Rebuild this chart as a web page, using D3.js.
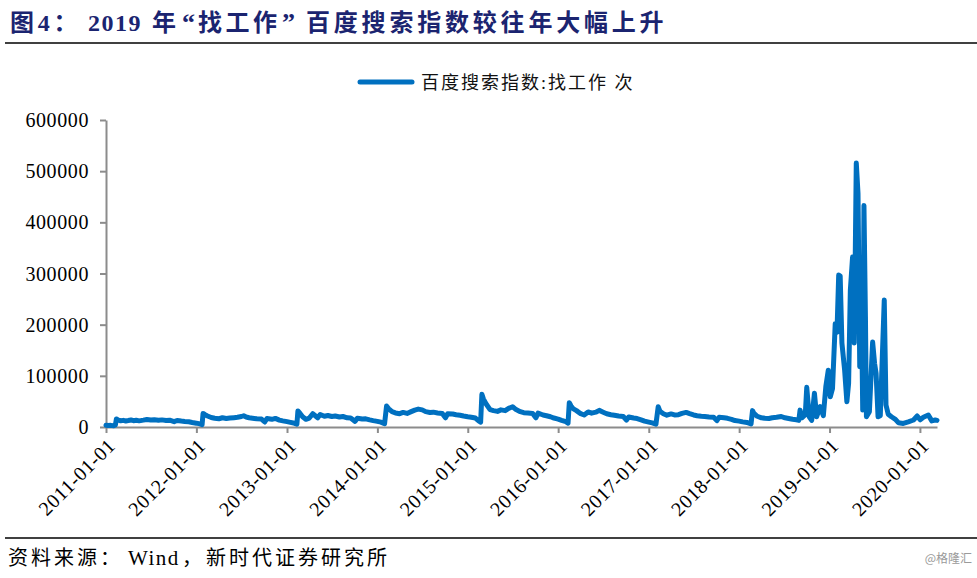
<!DOCTYPE html>
<html><head><meta charset="utf-8">
<script src="https://cdn.jsdelivr.net/npm/d3@7/dist/d3.min.js"></script>
<style>body{margin:0;background:#fff}svg{display:block}</style>
</head><body>
<svg id="c" width="977" height="578"></svg>
<script>
const titleParts = ["图4：", "2019", "年", "“", "找工作", "”", "百度搜索指数较往年大幅上升"];
const legendLabel = "百度搜索指数:找工作 次";
const sourceParts = ["资料来源：", "Wind", "，", "新时代证券研究所"];
const watermark = "@格隆汇";
const yTicks = [0, 100000, 200000, 300000, 400000, 500000, 600000];
const xTickLabels = ["2011-01-01","2012-01-01","2013-01-01","2014-01-01","2015-01-01","2016-01-01","2017-01-01","2018-01-01","2019-01-01","2020-01-01"];
const xStart = "2011-01-01", xEnd = "2020-03-10";

const s2011 = [["2011-01-01",3500],["2011-01-10",2800],["2011-01-20",3200],["2011-02-01",2600],["2011-02-08",4000],["2011-02-12",15800],["2011-02-20",13500],["2011-03-01",12200],["2011-03-12",13000],["2011-03-22",11800],["2011-04-01",12600],["2011-04-12",13800],["2011-04-22",12400],["2011-05-03",13200],["2011-05-15",12000],["2011-06-01",13400],["2011-06-15",14800],["2011-07-01",13600],["2011-07-15",14200],["2011-08-01",13000],["2011-08-15",13900],["2011-09-01",12600],["2011-09-15",13400],["2011-10-03",10500],["2011-10-15",12800],["2011-11-01",11600],["2011-11-15",10800],["2011-12-01",10200],["2011-12-15",8800],["2012-01-01",7500],["2012-01-15",6000],["2012-01-24",4500]];
const s2012 = [["2012-01-28",26500],["2012-02-05",24000],["2012-02-15",21500],["2012-03-01",18500],["2012-03-15",17000],["2012-04-01",16200],["2012-04-15",18000],["2012-05-01",16500],["2012-05-15",17400],["2012-06-01",18200],["2012-06-15",19000],["2012-07-01",20500],["2012-07-10",22000],["2012-07-20",19500],["2012-08-01",18000],["2012-08-15",17200],["2012-09-01",16000],["2012-09-20",15500],["2012-10-03",9800],["2012-10-12",16500],["2012-11-01",15000],["2012-11-15",16800],["2012-12-01",13500],["2012-12-15",12000],["2013-01-01",10500],["2013-01-15",9000],["2013-02-01",7200],["2013-02-10",5500]];
const s2013 = [["2013-02-14",31500],["2013-02-22",27000],["2013-03-05",20000],["2013-03-18",15000],["2013-04-01",17500],["2013-04-15",26000],["2013-04-25",22000],["2013-05-05",18000],["2013-05-15",24500],["2013-06-01",21000],["2013-06-15",22500],["2013-07-01",20500],["2013-07-15",21500],["2013-08-01",19500],["2013-08-15",20500],["2013-09-01",18000],["2013-09-15",17500],["2013-10-03",11000],["2013-10-12",17000],["2013-11-01",15500],["2013-11-15",16000],["2013-12-01",14000],["2013-12-15",12500],["2014-01-01",11000],["2014-01-15",9500],["2014-01-30",6500]];
const s2014 = [["2014-02-07",41000],["2014-02-15",36000],["2014-03-01",30000],["2014-03-15",27500],["2014-04-01",26000],["2014-04-15",28500],["2014-05-01",26500],["2014-05-15",29500],["2014-06-01",33000],["2014-06-15",35000],["2014-07-01",33500],["2014-07-15",30000],["2014-08-01",28500],["2014-08-15",29000],["2014-09-01",27500],["2014-09-20",26500],["2014-10-03",18000],["2014-10-12",26000],["2014-11-01",25500],["2014-11-15",24000],["2014-12-01",23000],["2014-12-15",21500],["2015-01-01",20000],["2015-01-15",19000],["2015-02-01",17500],["2015-02-14",12000],["2015-02-22",9500]];
const s2015 = [["2015-02-27",64000],["2015-03-05",55000],["2015-03-15",46000],["2015-04-01",34000],["2015-04-15",32000],["2015-05-01",30500],["2015-05-15",33500],["2015-06-01",32000],["2015-06-15",36500],["2015-07-01",39500],["2015-07-15",34000],["2015-08-01",30000],["2015-08-15",28000],["2015-09-01",27500],["2015-09-20",26500],["2015-10-03",18000],["2015-10-12",27000],["2015-11-01",23500],["2015-11-15",22000],["2015-12-01",20000],["2015-12-15",17500],["2016-01-01",15500],["2016-01-15",13000],["2016-02-01",10500],["2016-02-10",7500]];
const s2016 = [["2016-02-15",47500],["2016-02-22",41000],["2016-03-01",36000],["2016-03-15",32000],["2016-04-01",26000],["2016-04-15",23500],["2016-05-01",29500],["2016-05-15",27000],["2016-06-01",29000],["2016-06-15",32500],["2016-07-01",29000],["2016-07-15",26000],["2016-08-01",24000],["2016-08-15",23000],["2016-09-01",21500],["2016-09-20",20500],["2016-10-03",13500],["2016-10-12",19500],["2016-11-01",17500],["2016-11-15",16500],["2016-12-01",14000],["2016-12-15",11500],["2017-01-01",9500],["2017-01-15",8000],["2017-01-30",5500]];
const s2017 = [["2017-02-08",39500],["2017-02-15",31000],["2017-03-01",26000],["2017-03-15",23000],["2017-04-01",25500],["2017-04-15",23500],["2017-05-01",24000],["2017-05-15",26500],["2017-06-01",28500],["2017-06-15",26000],["2017-07-01",23500],["2017-07-15",22000],["2017-08-01",21000],["2017-08-15",20500],["2017-09-01",19500],["2017-09-20",19000],["2017-10-03",12500],["2017-10-12",19000],["2017-11-01",18000],["2017-11-15",17000],["2017-12-01",15000],["2017-12-15",12500],["2018-01-01",11500],["2018-01-15",10000],["2018-02-01",9000],["2018-02-18",6000]];
const s2018 = [["2018-02-24",32000],["2018-03-01",27000],["2018-03-15",21000],["2018-04-01",18000],["2018-04-15",17000],["2018-05-01",16500],["2018-05-15",18000],["2018-06-01",19000],["2018-06-20",20500],["2018-07-05",18000],["2018-07-20",16500],["2018-08-05",15000],["2018-08-20",14000],["2018-08-30",13000],["2018-09-04",33000],["2018-09-12",18000],["2018-09-25",24000],["2018-10-01",77500],["2018-10-11",20000],["2018-10-21",13000],["2018-11-01",65800],["2018-11-10",20000],["2018-11-24",39700],["2018-12-07",22000],["2018-12-17",78700],["2018-12-27",111000]];
const s2019 = [["2019-01-04",59000],["2019-01-13",75000],["2019-01-24",202000],["2019-01-31",185000],["2019-02-07",297000],["2019-02-13",295000],["2019-02-20",164000],["2019-03-03",111000],["2019-03-12",49400],["2019-03-19",85000],["2019-03-26",267000],["2019-04-04",332000],["2019-04-11",164000],["2019-04-19",516000],["2019-04-26",456000],["2019-05-03",117700],["2019-05-08",306000],["2019-05-15",33000],["2019-05-20",433000],["2019-05-26",215000],["2019-05-30",20000],["2019-06-11",30000],["2019-06-24",166000],["2019-07-02",124000],["2019-07-08",105000],["2019-07-16",20000],["2019-07-25",22000],["2019-08-10",248000],["2019-08-17",43000],["2019-08-26",25000],["2019-09-08",20000],["2019-09-24",15000],["2019-10-06",8400],["2019-10-26",7000],["2019-11-15",10000],["2019-12-06",13700],["2019-12-21",21500]];
const s2020 = [["2020-01-02",14000],["2020-01-15",19000],["2020-02-04",23400],["2020-02-18",12000],["2020-03-03",13700],["2020-03-10",13000]];

const parse = d3.timeParse("%Y-%m-%d");
const series = [].concat(s2011, s2012, s2013, s2014, s2015, s2016, s2017, s2018, s2019, s2020)
  .map(([d, v]) => ({date: parse(d), value: v}));

const svg = d3.select("#c");
const blue = "#0070C0", axisGray = "#8c8c8c";
const serif = "'Liberation Serif','Times New Roman',serif";
const cjk = "'Liberation Serif','Noto Sans CJK SC',serif";

const x = d3.scaleTime().domain([parse(xStart), parse(xEnd)]).range([106, 937]);
const y = d3.scaleLinear().domain([0, 600000]).range([427, 120]);

// title
const titleX = [10, 88, 152, 182, 198, 282, 306];
const title = svg.append("text").attr("y", 31)
  .attr("font-family", cjk).attr("font-weight", "bold").attr("font-size", 24)
  .attr("fill", "#1b2470");
title.selectAll("tspan").data(titleParts).join("tspan")
  .attr("x", (d, i) => titleX[i])
  .attr("letter-spacing", (d, i) => (i === 1 ? 1.5 : (i === 3 || i === 5) ? 0 : (i === 4 ? 3.5 : 3.8)))
  .attr("font-size", (d, i) => (i === 3 || i === 5) ? 26 : 24)
  .text(d => d);
svg.append("line").attr("x1", 5).attr("x2", 977).attr("y1", 43).attr("y2", 43)
  .attr("stroke", "#000").attr("stroke-width", 1.5);

// legend
svg.append("line").attr("x1", 360).attr("x2", 412).attr("y1", 82).attr("y2", 82)
  .attr("stroke", blue).attr("stroke-width", 5).attr("stroke-linecap", "round");
svg.append("text").attr("x", 421).attr("y", 89)
  .attr("font-family", cjk).attr("font-size", 18).attr("letter-spacing", 2)
  .attr("fill", "#111").text(legendLabel);

// axes
const yAxis = svg.append("g").attr("transform", "translate(106,0)")
  .call(d3.axisLeft(y).tickValues(yTicks).tickSize(6).tickSizeOuter(0).tickPadding(11).tickFormat(d3.format("d")));
const xAxis = svg.append("g").attr("transform", "translate(0,427)")
  .call(d3.axisBottom(x).tickValues(xTickLabels.map(parse)).tickSize(6).tickSizeOuter(0).tickFormat(d3.timeFormat("%Y-%m-%d")));
[yAxis, xAxis].forEach(g => {
  g.select(".domain").attr("stroke", axisGray).attr("stroke-width", 2);
  g.selectAll(".tick line").attr("stroke", axisGray).attr("stroke-width", 2);
  g.selectAll("text").attr("font-family", serif).attr("font-size", 20).attr("fill", "#000")
    .attr("letter-spacing", 0.6);
});
yAxis.selectAll("text").attr("dy", "0.33em");
xAxis.selectAll(".tick text")
  .attr("text-anchor", "end").attr("y", 0).attr("dy", "0.35em")
  .attr("transform", "translate(5,15) rotate(-45)");

// series
const line = d3.line().x(d => x(d.date)).y(d => y(d.value));
svg.append("path").datum(series).attr("d", line)
  .attr("fill", "none").attr("stroke", blue).attr("stroke-width", 5)
  .attr("stroke-linejoin", "round").attr("stroke-linecap", "round");

// footer
svg.append("line").attr("x1", 5).attr("x2", 977).attr("y1", 538).attr("y2", 538)
  .attr("stroke", "#000").attr("stroke-width", 1.5);
const srcX = [8, 128, 182, 206];
const src = svg.append("text").attr("y", 565)
  .attr("font-family", cjk).attr("font-size", 20).attr("fill", "#000");
src.selectAll("tspan").data(sourceParts).join("tspan")
  .attr("x", (d, i) => srcX[i])
  .attr("font-size", (d, i) => i === 1 ? 21 : 20)
  .attr("letter-spacing", (d, i) => i === 1 ? 1.5 : i === 2 ? 0 : 3)
  .text(d => d);
svg.append("text").attr("x", 972).attr("y", 563).attr("text-anchor", "end")
  .attr("font-family", "'Noto Sans CJK SC',sans-serif").attr("font-size", 12)
  .attr("fill", "#9a9a9a").text(watermark);
</script>
</body></html>
